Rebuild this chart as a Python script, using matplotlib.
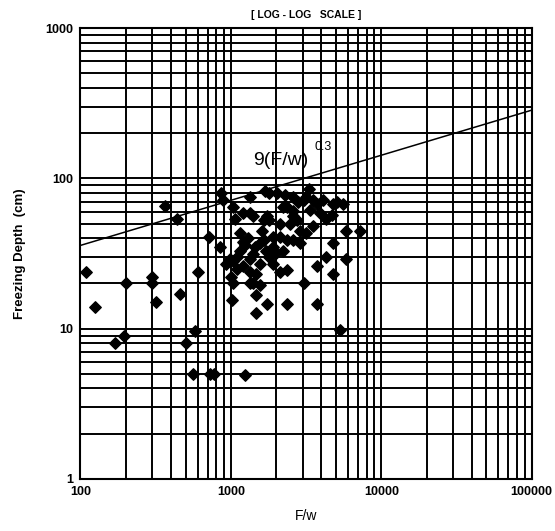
import numpy as np
import matplotlib
matplotlib.use("Agg")
import matplotlib.pyplot as plt
from matplotlib.ticker import LogLocator, FixedLocator, FixedFormatter, NullFormatter

plt.rcParams['font.family'] = ['Liberation Sans', 'DejaVu Sans']

# F/w (x) and freezing depth in cm (y)
fw = [109, 125, 170, 195, 200, 300, 300, 320, 365, 437, 460, 500, 580, 560, 600,
      730, 770, 710, 850, 860, 880, 935, 990, 1000, 1010, 1040, 1040, 1070, 1150,
      1150, 1210, 1210, 1240, 1340, 1340, 1340, 1410, 1410, 1410, 1480, 1480, 1480,
      1560, 1560, 1650, 1650, 1690, 1730, 1730, 1800, 1800, 1910, 1910, 2020, 2110,
      2110, 2110, 2230, 2230, 2350, 2350, 2350, 2350, 2480, 2600, 2600, 2600, 2600,
      2750, 2880, 2880, 3040, 3040, 3180, 3180, 3360, 3540, 3540, 3720, 3720, 3720,
      3900, 4100, 4320, 4320, 4700, 4800, 4800, 4800, 5050, 5300, 5600, 5870, 5870,
      7240, 1040, 1340, 1100, 1250, 1300, 1450, 1600, 1700, 1550, 1200, 1900, 2000,
      1350, 1100, 1800, 2300, 2800, 3300]
depth = [24, 14, 8, 9, 20, 22, 20, 15, 66, 54, 17, 8, 9.7, 5, 24,
         5, 5, 41, 35, 80, 72, 27, 29, 22, 15.5, 28, 65, 54, 43,
         33, 26, 59, 4.9, 59, 75, 29, 31.5, 20, 56, 23, 16.8, 12.7,
         27, 19.5, 39, 53, 82, 56, 14.7, 53, 30, 35, 41, 80, 41,
         50, 24, 33, 65, 65, 39, 24.5, 14.7, 50, 56, 39, 61, 75,
         53, 37, 45, 72, 20, 43, 75, 62, 48, 72, 68, 26, 14.7,
         59, 72, 54, 30, 57, 68, 37, 23, 70, 9.8, 68, 45, 29,
         45, 20, 20, 30, 36, 40, 35, 45, 33, 37, 38, 27, 32,
         24, 25, 80, 78, 70, 85]

coef = 9
expo = 0.3
xline = np.array([100, 100000])

fig = plt.figure(figsize=(5.55, 5.31), dpi=100)
ax = fig.add_axes([0.145, 0.098, 0.813, 0.849])
ax.set_xscale('log')
ax.set_yscale('log')
ax.set_xlim(100, 100000)
ax.set_ylim(1, 1000)

ax.grid(True, which='both', color='black', linewidth=1.4)
ax.set_axisbelow(True)

ax.plot(xline, coef * xline ** expo, color='black', linewidth=1.1)
ax.scatter(fw, depth, marker='D', s=34, color='black', zorder=3)

ax.text(1400, 123, '9(F/w)', fontsize=14)
ax.text(3600, 155, '0.3', fontsize=9)

ax.xaxis.set_major_locator(FixedLocator([100, 1000, 10000, 100000]))
ax.xaxis.set_major_formatter(FixedFormatter(['100', '1000', '10000', '100000']))
ax.yaxis.set_major_locator(FixedLocator([1, 10, 100, 1000]))
ax.yaxis.set_major_formatter(FixedFormatter(['1', '10', '100', '1000']))
ax.xaxis.set_minor_locator(LogLocator(base=10, subs=np.arange(2, 10)))
ax.yaxis.set_minor_locator(LogLocator(base=10, subs=np.arange(2, 10)))
ax.xaxis.set_minor_formatter(NullFormatter())
ax.yaxis.set_minor_formatter(NullFormatter())
ax.tick_params(which='both', length=0, labelsize=9, pad=5)
for lab in ax.get_xticklabels() + ax.get_yticklabels():
    lab.set_fontweight('bold')
for sp in ax.spines.values():
    sp.set_linewidth(1.5)

ax.set_title('[ LOG - LOG   SCALE ]', fontsize=7.5, weight='bold', pad=7)
ax.set_xlabel('F/w', fontsize=10, labelpad=8)
ax.set_ylabel('Freezing Depth  (cm)', fontsize=9.5, weight='bold', labelpad=14)

fig.savefig('out.png', dpi=100)
